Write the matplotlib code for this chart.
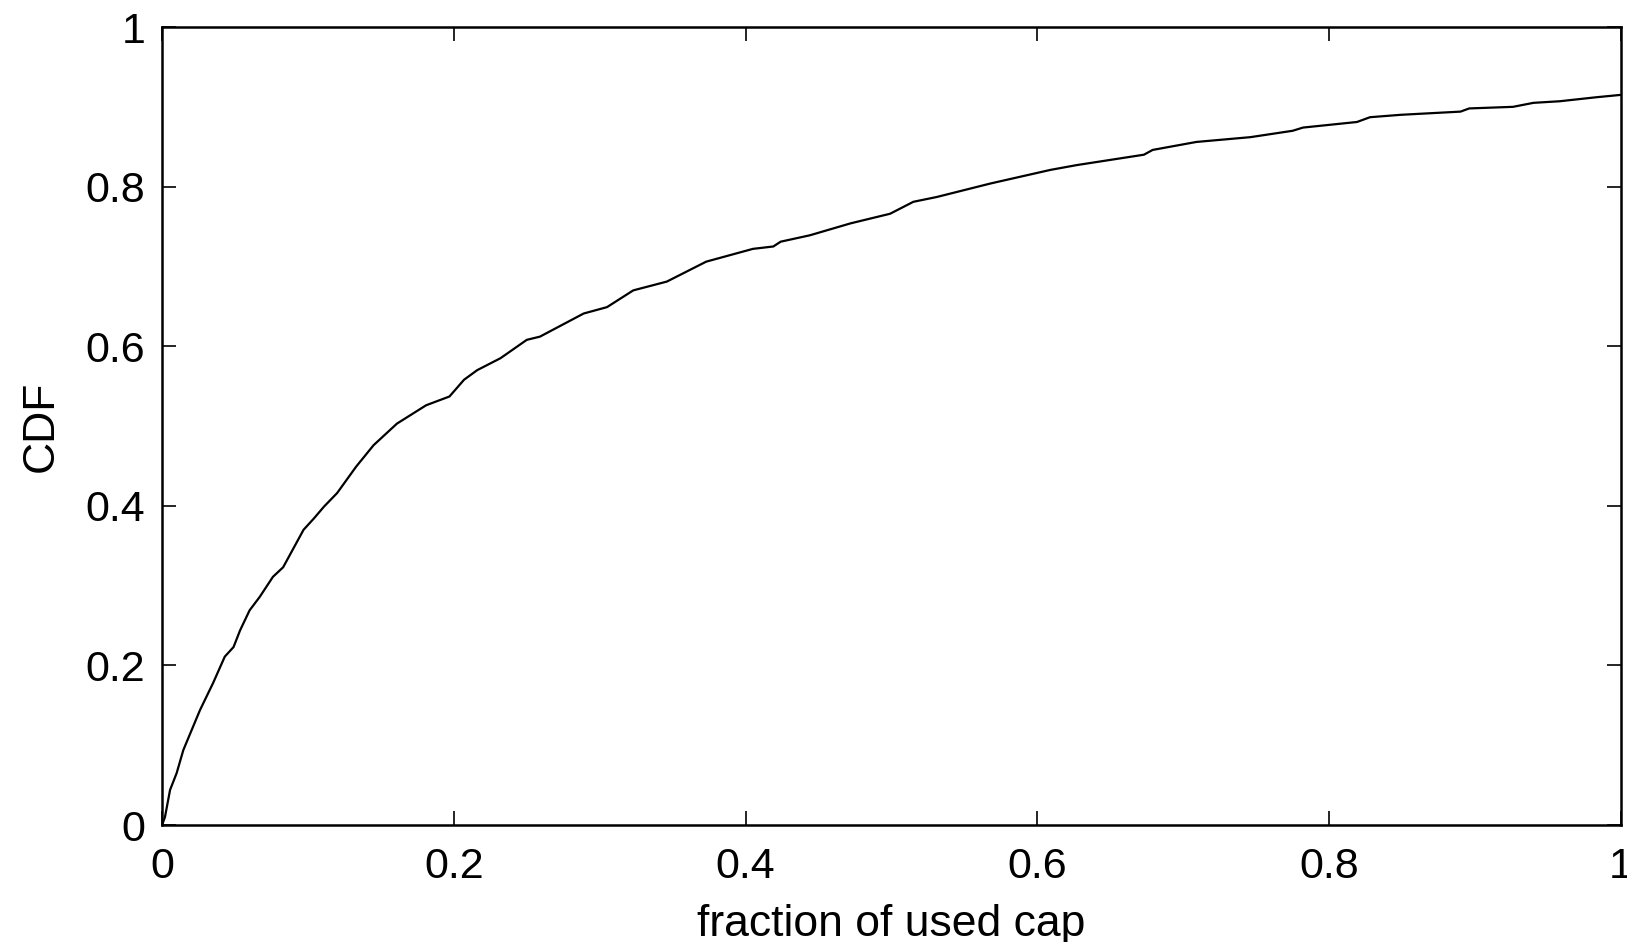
import matplotlib
matplotlib.use('Agg')
import matplotlib.pyplot as plt

plt.rcParams['font.family'] = ['Liberation Sans', 'DejaVu Sans']

# CDF
frac_used = [0.0, 0.002, 0.0055, 0.010, 0.0146, 0.026, 0.035, 0.043, 0.049, 0.0535,
             0.060, 0.067, 0.076, 0.083, 0.097, 0.104, 0.111, 0.120, 0.133, 0.145,
             0.161, 0.181, 0.197, 0.207, 0.216, 0.232, 0.250, 0.259, 0.289, 0.305,
             0.323, 0.346, 0.373, 0.405, 0.419, 0.424, 0.444, 0.472, 0.499, 0.515,
             0.531, 0.568, 0.609, 0.627, 0.673, 0.679, 0.709, 0.746, 0.775, 0.782,
             0.819, 0.828, 0.849, 0.890, 0.896, 0.926, 0.940, 0.958, 0.983, 1.0]
cdf = [0.0, 0.01, 0.044, 0.065, 0.094, 0.144, 0.178, 0.211, 0.223, 0.244,
       0.269, 0.286, 0.311, 0.323, 0.370, 0.384, 0.399, 0.416, 0.449, 0.476,
       0.503, 0.526, 0.537, 0.558, 0.570, 0.585, 0.608, 0.612, 0.641, 0.649,
       0.670, 0.681, 0.706, 0.722, 0.725, 0.731, 0.739, 0.754, 0.766, 0.781,
       0.787, 0.804, 0.821, 0.827, 0.840, 0.846, 0.856, 0.862, 0.870, 0.874,
       0.881, 0.887, 0.890, 0.894, 0.898, 0.900, 0.905, 0.907, 0.912, 0.915]

ticks = [0, 0.2, 0.4, 0.6, 0.8, 1]
tick_labels = ['0', '0.2', '0.4', '0.6', '0.8', '1']

fig = plt.figure(figsize=(16.27, 9.42), dpi=100)
ax = fig.add_axes([0.0996, 0.1242, 0.8967, 0.8471])

ax.plot(frac_used, cdf, color='black', linewidth=1.6)

ax.set_xlim(0, 1)
ax.set_ylim(0, 1)
ax.set_xticks(ticks)
ax.set_xticklabels(tick_labels)
ax.set_yticks(ticks)
ax.set_yticklabels(tick_labels)
ax.tick_params(axis='both', direction='in', length=10, width=1.2, top=True, right=True,
               labelsize=31)
ax.tick_params(axis='x', pad=16)
ax.tick_params(axis='y', pad=12)
for sp in ax.spines.values():
    sp.set_linewidth(1.8)

ax.set_xlabel('fraction of used cap', fontsize=32, labelpad=12)
ax.set_ylabel('CDF', fontsize=32, labelpad=17)

fig.savefig('out.png', dpi=100, facecolor='white')
